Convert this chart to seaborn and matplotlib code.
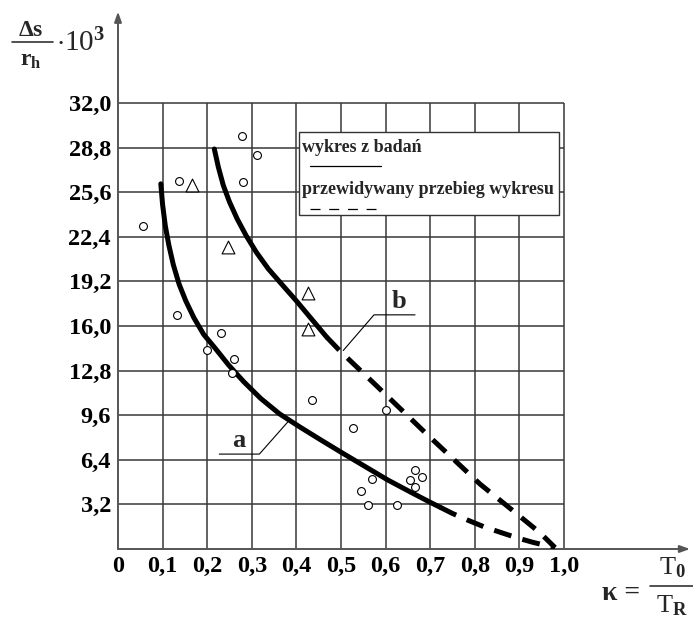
import matplotlib
matplotlib.use("Agg")
import matplotlib.pyplot as plt
from matplotlib.lines import Line2D
from matplotlib.patches import Rectangle
import seaborn as sns
import pandas as pd

# ---------------- data ----------------
x_ticks = [0.0, 0.1, 0.2, 0.3, 0.4, 0.5, 0.6, 0.7, 0.8, 0.9, 1.0]
x_tick_labels = ["0", "0,1", "0,2", "0,3", "0,4", "0,5", "0,6", "0,7", "0,8", "0,9", "1,0"]
y_ticks = [3.2, 6.4, 9.6, 12.8, 16.0, 19.2, 22.4, 25.6, 28.8, 32.0]
y_tick_labels = ["3,2", "6,4", "9,6", "12,8", "16,0", "19,2", "22,4", "25,6", "28,8", "32,0"]

circle_x = [0.057, 0.137, 0.277, 0.311, 0.280, 0.132, 0.231, 0.199, 0.259, 0.255,
            0.434, 0.601, 0.526, 0.666, 0.681, 0.655, 0.666, 0.570, 0.544, 0.561, 0.626]
circle_y = [23.2, 26.4, 29.6, 28.3, 26.3, 16.8, 15.5, 14.3, 13.6, 12.6,
            10.7, 10.0, 8.7, 5.7, 5.2, 4.96, 4.46, 5.0, 4.17, 3.17, 3.17]

triangle_x = [0.167, 0.246, 0.426, 0.426]
triangle_y = [26.1, 21.7, 18.4, 15.8]

curve_a_x = [0.096, 0.100, 0.106, 0.114, 0.124, 0.137, 0.152, 0.170, 0.192, 0.218, 0.248,
             0.282, 0.320, 0.362, 0.408, 0.456, 0.505, 0.555, 0.605, 0.655, 0.700, 0.722]
curve_a_y = [26.2, 24.7, 23.2, 21.8, 20.4, 19.0, 17.8, 16.6, 15.4, 14.4, 13.2,
             12.0, 10.8, 9.7, 8.75, 7.8, 6.85, 5.9, 4.95, 4.1, 3.35, 3.0]
curve_a_pred_x = [0.722, 0.750, 0.782, 0.820, 0.857, 0.895, 0.930, 0.960, 0.980]
curve_a_pred_y = [3.0, 2.55, 2.1, 1.6, 1.2, 0.8, 0.48, 0.25, 0.1]

curve_b_x = [0.216, 0.225, 0.236, 0.250, 0.267, 0.287, 0.310, 0.337, 0.367, 0.400, 0.434, 0.468]
curve_b_y = [28.7, 27.4, 26.1, 24.9, 23.7, 22.5, 21.3, 20.1, 19.0, 17.8, 16.5, 15.2]
curve_b_pred_x = [0.468, 0.498, 0.580, 0.692, 0.812, 0.872, 0.946, 0.980]
curve_b_pred_y = [15.2, 14.2, 11.7, 8.25, 4.65, 3.1, 1.17, 0.1]

legend_labels = ["wykres z badań", "przewidywany przebieg wykresu"]

# ---------------- style ----------------
sns.set_theme(style="white")
plt.rcParams["font.family"] = ["Liberation Serif", "DejaVu Serif"]
plt.rcParams["mathtext.fontset"] = "custom"
plt.rcParams["mathtext.rm"] = "Liberation Serif:bold"
plt.rcParams["mathtext.it"] = "Liberation Serif:bold"
plt.rcParams["mathtext.bf"] = "Liberation Serif:bold"

W, H = 693, 621
fig = plt.figure(figsize=(W / 100, H / 100), dpi=100)
fig.patch.set_facecolor("white")

X0, Y0 = 118, 549           # pixel position of data origin
PX_X = 446.0                # pixels per 1.0 on x
PX_Y = 446.0 / 32.0         # pixels per unit on y
ax = fig.add_axes([X0 / W, (H - Y0) / H, (W - X0) / W, (Y0 - 8) / H])
ax.set_xlim(0, (W - X0) / PX_X)
ax.set_ylim(0, (Y0 - 8) / PX_Y)
ax.set_facecolor("white")
for s in ax.spines.values():
    s.set_visible(False)


def fx(px):
    return px / W


def fy(py):
    return 1 - py / H


grid_col = "#383838"
ax.vlines(x_ticks[1:], 0, y_ticks[-1], color=grid_col, lw=1.1, zorder=1)
ax.hlines(y_ticks, 0, x_ticks[-1], color=grid_col, lw=1.1, zorder=1)

# axes with arrows
ax.annotate("", xy=(1.2825, 0), xytext=(0, 0),
            arrowprops=dict(arrowstyle="-|>,head_length=0.5,head_width=0.18", color="#555555", lw=1.4,
                            shrinkA=0, shrinkB=0), zorder=2)
ax.annotate("", xy=(0, 38.55), xytext=(0, 0),
            arrowprops=dict(arrowstyle="-|>,head_length=0.5,head_width=0.18", color="#555555", lw=1.4,
                            shrinkA=0, shrinkB=0), zorder=2)

# curves
lw_curve = 3.6
dash = (0, (3.6, 2.3))
df_a = pd.DataFrame({"x": curve_a_x, "y": curve_a_y})
df_ap = pd.DataFrame({"x": curve_a_pred_x, "y": curve_a_pred_y})
df_b = pd.DataFrame({"x": curve_b_x, "y": curve_b_y})
df_bp = pd.DataFrame({"x": curve_b_pred_x, "y": curve_b_pred_y})
sns.lineplot(data=df_a, x="x", y="y", sort=False, estimator=None, color="black", lw=lw_curve, ax=ax, zorder=4)
sns.lineplot(data=df_b, x="x", y="y", sort=False, estimator=None, color="black", lw=lw_curve, ax=ax, zorder=4)
sns.lineplot(data=df_ap, x="x", y="y", sort=False, estimator=None, color="black", lw=lw_curve,
             linestyle=dash, ax=ax, zorder=4)
sns.lineplot(data=df_bp, x="x", y="y", sort=False, estimator=None, color="black", lw=lw_curve,
             linestyle=dash, ax=ax, zorder=4)

# markers
sns.scatterplot(x=circle_x, y=circle_y, marker="o", s=32, facecolor="white", edgecolor="black",
                linewidth=0.8, ax=ax, zorder=5)
sns.scatterplot(x=triangle_x, y=triangle_y, marker="^", s=85, facecolor="white", edgecolor="black",
                linewidth=0.8, ax=ax, zorder=5)

ax.set_xlabel("")
ax.set_ylabel("")
ax.set_xlim(0, (W - X0) / PX_X)
ax.set_ylim(0, (Y0 - 8) / PX_Y)
ax.set_xticks(x_ticks)
ax.set_xticklabels(x_tick_labels, fontsize=17.5, fontweight="bold")
ax.set_yticks(y_ticks)
ax.set_yticklabels(y_tick_labels, fontsize=17.5, fontweight="bold")
ax.tick_params(axis="both", length=0, colors="black")
ax.tick_params(axis="x", pad=5)
ax.tick_params(axis="y", pad=5)

# labels a and b with leader lines
ax.plot([0.227, 0.317, 0.380], [6.81, 6.81, 9.09], color="black", lw=0.8, zorder=3)
ax.text(0.270, 6.95, "a", fontsize=19, fontweight="bold", ha="center", va="bottom", zorder=6)
ax.plot([0.505, 0.574, 0.666], [14.24, 16.8, 16.8], color="black", lw=0.8, zorder=3)
ax.text(0.630, 16.9, "b", fontsize=19, fontweight="bold", ha="center", va="bottom", zorder=6)

# legend box (manual)
fig.add_artist(Rectangle((fx(299), fy(215)), fx(559) - fx(299), fy(132) - fy(215),
                         transform=fig.transFigure, facecolor="white", edgecolor="#333333", lw=1.0, zorder=10))
fig.text(fx(302), fy(148), legend_labels[0], fontsize=13, fontweight="bold", ha="left", va="center", zorder=11)
fig.add_artist(Line2D([fx(310), fx(381)], [fy(166), fy(166)], transform=fig.transFigure,
                      color="black", lw=0.9, zorder=11))
fig.text(fx(302), fy(190), legend_labels[1], fontsize=13, fontweight="bold", ha="left", va="center", zorder=11)
fig.add_artist(Line2D([fx(310), fx(376)], [fy(209), fy(209)], transform=fig.transFigure,
                      color="black", lw=0.9, linestyle=(0, (8.0, 6.96)), zorder=11))

# y-axis title  Δs/r_h · 10^3
fig.text(fx(31), fy(31), r"$\Delta$s", fontsize=17, fontweight="bold", ha="center", va="center")
fig.add_artist(Line2D([fx(12), fx(53)], [fy(42), fy(42)], transform=fig.transFigure, color="#333333", lw=1.2))
fig.text(fx(31), fy(60), r"r$_{\mathrm{h}}$", fontsize=17, fontweight="bold", ha="center", va="center")
fig.text(fx(56), fy(43), r"$\cdot$10$^{3}$", fontsize=21, ha="left", va="center")

# x-axis title  κ = T0/TR
fig.text(fx(602), fy(594), "κ =", fontsize=20, fontweight="bold", ha="left", va="center")
fig.text(fx(672), fy(568), r"T$_{0}$", fontsize=19, ha="center", va="center")
fig.add_artist(Line2D([fx(650), fx(693)], [fy(586), fy(586)], transform=fig.transFigure, color="#333333", lw=1.2))
fig.text(fx(672), fy(606), r"T$_{\mathrm{R}}$", fontsize=19, ha="center", va="center")

fig.savefig("out.png", dpi=100, facecolor="white")
